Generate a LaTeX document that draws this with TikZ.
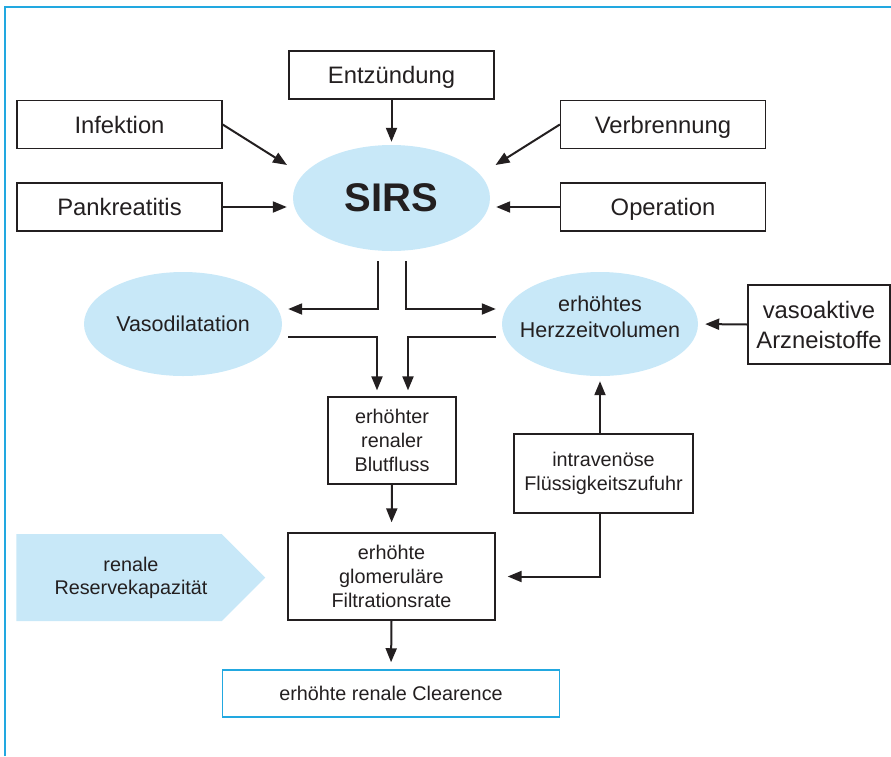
\documentclass[tikz,border=0pt]{standalone}
\usepackage{fontspec}
\setmainfont{Liberation Sans}
\usetikzlibrary{shapes.geometric,shapes.symbols,arrows.meta}

\definecolor{skyfill}{HTML}{C8E8F8}
\definecolor{frameblue}{HTML}{22A8E0}
\definecolor{ink}{HTML}{231F20}

\newcommand{\txtsmall}{\fontsize{19.8pt}{24pt}\selectfont}
\newcommand{\txtbig}{\fontsize{23.8pt}{30pt}\selectfont}
\newcommand{\txtoval}{\fontsize{21.5pt}{26pt}\selectfont}

\begin{document}
\begin{tikzpicture}[x=1pt,y=-1pt,
    box/.style={draw=ink, line width=1.3pt, inner sep=0pt, align=center, text=ink},
    topbox/.style={box, minimum width=205pt, minimum height=48pt, text height=17pt, text depth=0pt, font=\txtbig},
    smallbox/.style={box, font=\txtsmall},
    oval/.style={ellipse, fill=skyfill, inner xsep=-15pt, inner ysep=0pt, align=center, text=ink},
    arr/.style={draw=ink, line width=2pt, -{Triangle[length=14pt,width=11pt]}}]
  \useasboundingbox (0,0) rectangle (891,756);
  \draw[frameblue, line width=1.5pt] (5,756) -- (5,7) -- (891,7);

  % causes
  \node[topbox] (entz) at (391.5,75) {Entzündung};
  \node[topbox] (infe) at (119.5,124.5) {Infektion};
  \node[topbox] (verb) at (663,124.5) {Verbrennung};
  \node[topbox] (pank) at (119.5,207) {Pankreatitis};
  \node[topbox] (oper) at (663,207) {Operation};
  \node[oval, minimum width=197pt, minimum height=106pt, font=\fontsize{40pt}{48pt}\selectfont\bfseries] (sirs) at (391.5,198) {SIRS};

  % middle row
  \node[oval, minimum width=198pt, minimum height=104pt, font=\txtoval] (vaso) at (183,324) {Vasodilatation};
  \node[oval, minimum width=196pt, minimum height=104pt, text depth=14pt, font=\txtoval] (hzv) at (600,324) {erhöhtes\\Herzzeitvolumen};
  \node[box, minimum width=142pt, minimum height=79pt, font=\txtbig] (vasoakt) at (819,324.5) {vasoaktive\\Arzneistoffe};

  % kidney
  \node[smallbox, minimum width=128pt, minimum height=87pt] (blut) at (392,440.5) {erhöhter\\renaler\\Blutfluss};
  \node[smallbox, minimum width=179pt, minimum height=79pt] (iv) at (603.5,473.5) {intravenöse\\Flüssigkeitszufuhr};
  \node[smallbox, minimum width=207pt, minimum height=87pt] (gfr) at (391.5,576.5) {erhöhte\\glomeruläre\\Filtrationsrate};
  \node[signal, signal to=east, signal pointer angle=90, fill=skyfill, inner sep=0pt,
        minimum width=249pt, minimum height=87pt,
        label={[text=ink, align=center, xshift=12pt, font=\fontsize{19.8pt}{23pt}\selectfont]center:{renale\\Reservekapazität}}] (reserve) at (119,577.5) {};
  \node[smallbox, draw=frameblue, line width=1.5pt, minimum width=337pt, minimum height=47pt] (clear) at (391,693.5) {erhöhte renale Clearence};

  \draw[arr] (entz.south) -- ([yshift=3pt]sirs.north);
  \draw[arr] (infe.east) -- ([shift={(-104.5,-33)}]sirs.center);
  \draw[arr] (verb.west) -- ([shift={(104,-33)}]sirs.center);
  \draw[arr, shorten >=6pt] (pank.east) -- (pank.east -| sirs.west);
  \draw[arr, shorten >=6pt] (oper.west) -- (oper.west -| sirs.east);

  \draw[arr] ([shift={(-14,10)}]sirs.south) |- ([shift={(6,-15)}]vaso.east);
  \draw[arr] ([shift={(14,10)}]sirs.south) |- ([shift={(-6,-15)}]hzv.west);
  \draw[arr] ([shift={(6,13)}]vaso.east) -| ([shift={(-15,-6)}]blut.north);
  \draw[arr] ([shift={(-6,13)}]hzv.west) -| ([shift={(16,-6)}]blut.north);
  \draw[arr, shorten >=7pt] (vasoakt.west) -- (hzv.east);

  \draw[arr, shorten >=10pt] (blut.south) -- (gfr.north);
  \draw[arr, shorten >=7pt] (gfr.south) -- (clear.north);
  \draw[arr, shorten >=5pt] (hzv.south |- iv.north) -- (hzv.south);
  \draw[arr, shorten >=12pt] (hzv.south |- iv.south) |- (gfr.east);
\end{tikzpicture}
\end{document}
